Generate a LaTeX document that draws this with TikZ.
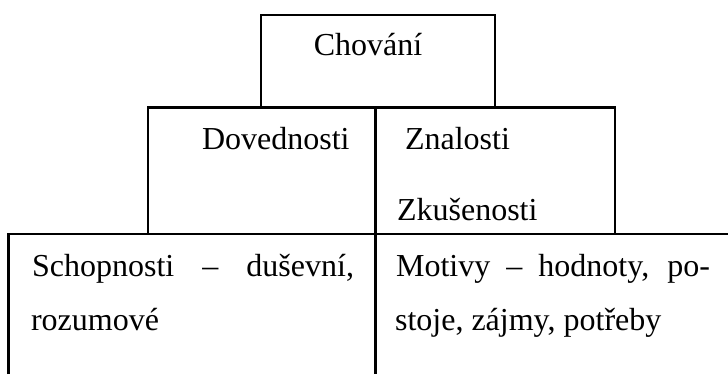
\documentclass[tikz,border=0pt]{standalone}
\usepackage{fontspec}
\setmainfont{Liberation Serif}
\begin{document}
\begin{tikzpicture}[x=0.375pt,y=-0.375pt,line width=0.8pt,
  lbl/.style={anchor=base west,inner sep=0pt,font=\fontsize{12}{14}\selectfont}]
\useasboundingbox (0,0) rectangle (728,374);
% frame coordinates
\coordinate (tl) at (260.7,15);
\coordinate (tr) at (495,15);
\coordinate (ml) at (148,107.5);
\coordinate (mr) at (615,107.5);
\coordinate (mid) at (375.5,107.5);
\coordinate (midb) at (375.5,374);
\coordinate (bl) at (8.5,234);
\coordinate (blb) at (8.5,374);
\coordinate (br) at (728,234);
% top box
\draw (tl |- ml) -- (tl) -- (tr) -- (tr |- ml);
% middle box
\draw (ml |- bl) -- (ml) -- (mr) -- (mr |- bl);
% central divider
\draw (mid) -- (midb);
% bottom row
\draw (blb) -- (bl) -- (br);
% labels
\node[lbl] (chov) at (312.7,55) {Chování};
\node[lbl] (dov) at (201,149.3) {Dovednosti};
\node[lbl] (zn) at (404,149) {Znalosti};
\node[lbl] (zk) at (396,220) {Zkušenosti};
\node[lbl] (sch1) at (31,276) {\makebox[120.75pt][s]{Schopnosti – duševní,}};
\node[lbl] (sch2) at (30,330.7) {rozumové};
\node[lbl] (mot1) at (395,276) {\makebox[117.75pt][s]{Motivy – hodnoty, po-}};
\node[lbl] (mot2) at (394,330.7) {stoje, zájmy, potřeby};
\end{tikzpicture}
\end{document}
